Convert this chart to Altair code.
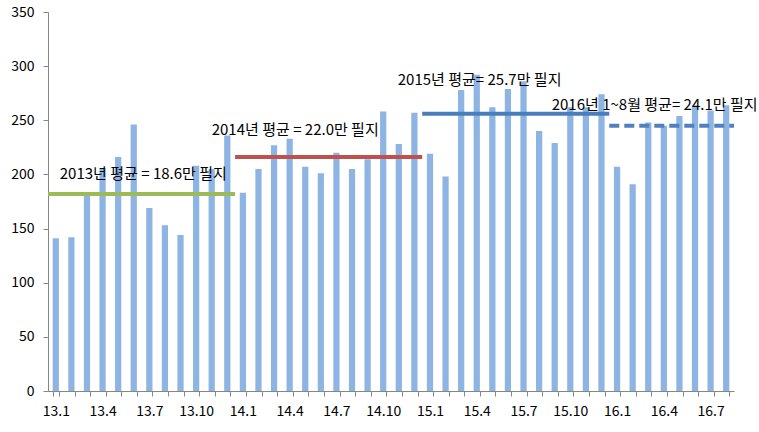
import altair as alt
import pandas as pd

months = [f"{y}.{m}" for y in (13, 14, 15) for m in range(1, 13)] + [f"16.{m}" for m in range(1, 9)]
values = [141, 142, 181, 206, 216, 246, 169, 153, 144, 208, 205, 236,
          183, 205, 227, 233, 207, 201, 220, 205, 214, 258, 228, 257,
          219, 198, 278, 292, 262, 279, 286, 240, 229, 262, 262, 274,
          207, 191, 248, 245, 254, 264, 259, 264]
shown_labels = ["13.1", "13.4", "13.7", "13.10", "14.1", "14.4", "14.7", "14.10",
                "15.1", "15.4", "15.7", "15.10", "16.1", "16.4", "16.7"]

avg_start = ["13.1", "14.1", "15.1", "16.1"]
avg_end = ["13.12", "14.12", "15.12", "16.8"]
avg_value = [182, 216, 256, 245]
avg_color = ["#9BBB59", "#C0504D", "#4A7EBB", "#4F81BD"]
avg_dashed = [False, False, False, True]

ann_text = ["2013년 평균 = 18.6만 필지", "2014년 평균 = 22.0만 필지",
            "2015년 평균= 25.7만 필지", "2016년 1~8월 평균= 24.1만 필지"]
ann_month = ["13.1", "13.11", "14.11", "15.9"]
ann_value = [200, 241, 287, 264]
ann_dx = [4, 0, -1, -3]

FONT = "Noto Sans CJK KR"
WIDTH = 686
STEP = WIDTH / len(months)
EDGE = STEP * 0.3

df = pd.DataFrame({"month": months, "value": values})
avg = pd.DataFrame({"start": avg_start, "end": avg_end, "value": avg_value})
ann = pd.DataFrame({"text": ann_text, "month": ann_month, "value": ann_value})

xscale = alt.Scale(domain=months, paddingInner=0.6, paddingOuter=0.3)
yscale = alt.Scale(domain=[0, 350])

label_expr = "indexof(" + str(shown_labels).replace("'", '"') + ", datum.value) >= 0 ? datum.value : ''"

bars = alt.Chart(df).mark_bar(color="#8DB4E2").encode(
    x=alt.X("month:N", scale=xscale, sort=months, title=None,
            axis=alt.Axis(labelExpr=label_expr, labelAngle=0, tickBand="extent",
                          domainColor="#868686", tickColor="#868686", tickSize=5,
                          labelPadding=8, labelFont=FONT, labelFontSize=14,
                          labelColor="#000000", grid=False)),
    y=alt.Y("value:Q", scale=yscale, title=None,
            axis=alt.Axis(values=list(range(0, 351, 50)), domainColor="#868686",
                          tickColor="#868686", tickSize=5, labelPadding=9,
                          labelFont=FONT, labelFontSize=14, labelColor="#000000",
                          grid=False)),
)

def avg_layer(row):
    d = avg.iloc[[row]]
    kw = dict(strokeWidth=4, color=avg_color[row], xOffset=-EDGE, x2Offset=EDGE)
    if avg_dashed[row]:
        kw["strokeDash"] = [10, 5]
    return alt.Chart(d).mark_rule(**kw).encode(
        x=alt.X("start:N", scale=xscale, bandPosition=0),
        x2=alt.X2("end:N", bandPosition=1),
        y=alt.Y("value:Q", scale=yscale),
    )

def text_layer(row):
    d = ann.iloc[[row]]
    return alt.Chart(d).mark_text(
        align="left", baseline="middle", font=FONT, fontSize=15, color="#000000",
        dx=ann_dx[row],
    ).encode(
        x=alt.X("month:N", scale=xscale),
        y=alt.Y("value:Q", scale=yscale),
        text="text:N",
    )

lines = [avg_layer(i) for i in range(len(avg))]
texts = [text_layer(i) for i in range(len(ann))]

chart = alt.layer(bars, *lines, *texts).properties(
    width=WIDTH, height=379,
    autosize=alt.AutoSizeParams(type="none"),
    padding={"left": 48, "top": 12, "right": 25, "bottom": 41},
).configure_view(stroke=None)

chart.save("out.html", embed_options={"renderer": "svg", "actions": False})
